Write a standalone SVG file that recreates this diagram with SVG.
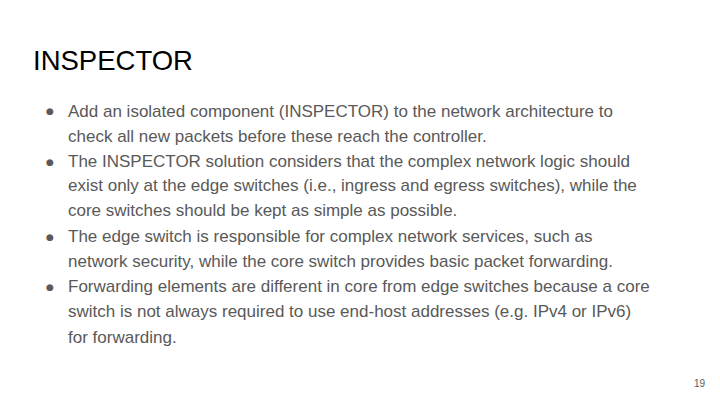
<svg xmlns="http://www.w3.org/2000/svg" width="720" height="405" viewBox="0 0 720 405">
<style>
.t{font-family:"Liberation Sans",Arial,sans-serif;fill:#595959;font-size:17px}
.b{font-family:"DejaVu Sans",sans-serif;fill:#595959;font-size:9px}
</style>
<rect width="720" height="405" fill="#fff"/>
<text x="33" y="70" font-family="Liberation Sans,Arial,sans-serif" font-size="27.5" fill="#000">INSPECTOR</text>
<g class="b">
<text x="46" y="114">●</text><text x="46" y="165">●</text><text x="46" y="240">●</text><text x="46" y="290">●</text>
</g>
<g class="t">
<text x="68" y="117">Add an isolated component (INSPECTOR) to the network architecture to</text>
<text x="68" y="142">check all new packets before these reach the controller.</text>
<text x="68" y="167">The INSPECTOR solution considers that the complex network logic should</text>
<text x="68" y="191">exist only at the edge switches (i.e., ingress and egress switches), while the</text>
<text x="68" y="216">core switches should be kept as simple as possible.</text>
<text x="68" y="242">The edge switch is responsible for complex network services, such as</text>
<text x="68" y="267">network security, while the core switch provides basic packet forwarding.</text>
<text x="68" y="292">Forwarding elements are different in core from edge switches because a core</text>
<text x="68" y="317">switch is not always required to use end-host addresses (e.g. IPv4 or IPv6)</text>
<text x="68" y="343">for forwarding.</text>
</g>
<text x="705" y="387" text-anchor="end" font-family="Liberation Sans,Arial,sans-serif" font-size="10" fill="#595959">19</text>
</svg>
